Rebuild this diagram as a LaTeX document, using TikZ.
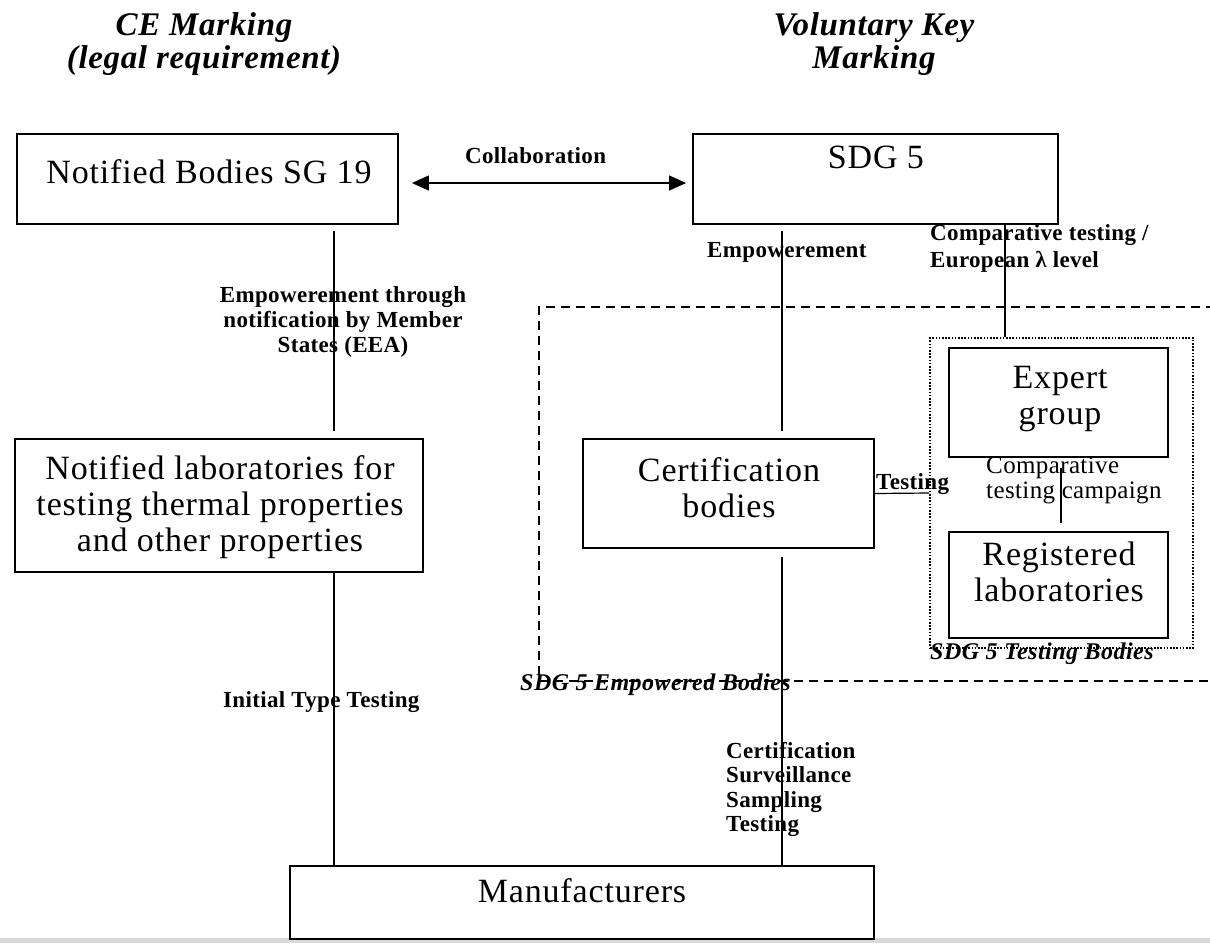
\documentclass[tikz,border=0pt]{standalone}
\usepackage{fontspec}
\setmainfont{Liberation Serif}
\newfontfamily\boxfam[LetterSpace=2.5]{Liberation Serif}
\newfontfamily\labfam[LetterSpace=1.5]{Liberation Serif}
\newfontfamily\titfam[LetterSpace=2]{Liberation Serif}
\usetikzlibrary{arrows.meta,calc}
\newcommand{\mytab}[2]{\begin{tabular}[t]{@{}#1@{}}#2\end{tabular}}
\definecolor{stripgray}{RGB}{217,217,217}
\tikzset{
  boxnode/.style={draw, line width=1.8pt, inner sep=0pt},
  boxtext/.style={inner sep=0pt, anchor=base, font=\boxfam\fontsize{34}{36}\selectfont},
  lab/.style={inner sep=0pt, font=\labfam\bfseries\fontsize{23}{25}\selectfont},
  reglab/.style={inner sep=0pt, font=\labfam\fontsize{25}{25}\selectfont},
  itlab/.style={inner sep=0pt, font=\titfam\bfseries\itshape\fontsize{24}{25}\selectfont},
  titletext/.style={inner sep=0pt, anchor=base, font=\titfam\bfseries\itshape\fontsize{33}{33}\selectfont},
  conn/.style={line width=1.2pt},
  arrowc/.style={line width=1.3pt, {Triangle[length=17pt,width=15pt]}-{Triangle[length=17pt,width=15pt]}},
  dashline/.style={line width=1.3pt, dash pattern=on 9pt off 6pt},
  dotbox/.style={draw, line width=1.6pt, dash pattern=on 1.6pt off 1.6pt, inner sep=0pt}
}
\begin{document}
\begin{tikzpicture}[x=1pt,y=-1pt]
\useasboundingbox (0,0) rectangle (1210,943);
\fill[white] (0,0) rectangle (1210,943);
\fill[stripgray] (0,938) rectangle (1210,943);

% titles
\node[titletext] (tce) at (204,35) {\mytab{c}{CE Marking\\(legal requirement)}};
\node[titletext] (tvk) at (874,35) {\mytab{c}{Voluntary Key\\Marking}};

% dashed region of empowered bodies
\draw[dashline] (1215,307) -- (539,307) -- (539,681) -- (1215,681);

% boxes
\node[boxnode, minimum width=381pt, minimum height=90pt] (nb) at (207.5,179) {};
\node[boxtext] (nbt) at (209,183) {Notified Bodies SG 19};
\node[boxnode, minimum width=365pt, minimum height=90pt] (sdg) at (875.5,179) {};
\node[boxtext] (sdgt) at (876,168) {SDG 5};
\node[boxnode, minimum width=408pt, minimum height=133pt] (lab) at (219,505.5) {};
\node[boxtext] (labt) at (220,479) {\mytab{c}{Notified laboratories for\\testing thermal properties\\and other properties}};
\node[boxnode, minimum width=291pt, minimum height=109pt] (cert) at (728.5,493.5) {};
\node[boxtext] (certt) at (729,481) {\mytab{c}{Certification\\bodies}};
\node[dotbox, minimum width=263pt, minimum height=310pt] (tb) at (1061.5,493) {};
\node[boxnode, minimum width=219pt, minimum height=109pt] (exp) at (1058.5,402.5) {};
\node[boxtext] (expt) at (1060,388) {\mytab{c}{Expert\\group}};
\node[boxnode, minimum width=219pt, minimum height=106pt] (reg) at (1058.5,585) {};
\node[boxtext] (regt) at (1059,565) {\mytab{c}{Registered\\laboratories}};
\node[boxnode, minimum width=584pt, minimum height=73pt] (man) at (582,902.5) {};
\node[boxtext] (mant) at (582,902) {Manufacturers};

% connector x positions
\coordinate (xL) at (334,0);
\coordinate (xC) at (782,0);
\coordinate (xK) at (1005,0);
\coordinate (xE) at (1061,0);

% connectors
\draw[arrowc] ([shift={(13pt,-4pt)}]nb.east) -- ([shift={(-6pt,-4pt)}]sdg.west);
\draw[conn] ([yshift=-6pt]nb.south -| xL) -- ([yshift=7pt]lab.north -| xL);
\draw[conn] (lab.south -| xL) -- (man.north -| xL);
\draw[conn] ([yshift=-6pt]sdg.south -| xC) -- ([yshift=7pt]cert.north -| xC);
\draw[conn] ([yshift=-8pt]cert.south -| xC) -- (man.north -| xC);
\draw[conn] (sdg.south -| xK) -- (tb.north -| xK);
\draw[conn] (cert.east) -- (tb.west);
\draw[conn] ([yshift=-10pt]exp.south -| xE) -- ([yshift=8pt]reg.north -| xE);

% labels
\node[lab, anchor=base west] (collab) at (465,163) {Collaboration};
\node[lab, anchor=base] (emp1) at (343,302) {\mytab{c}{Empowerement through\\notification by Member\\States (EEA)}};
\node[lab, anchor=base west] (itt) at (223,707) {Initial Type Testing};
\node[lab, anchor=base west] (emp2) at (707,257) {Empowerement};
\node[lab, anchor=base west, font=\labfam\bfseries\fontsize{23}{27}\selectfont] (ctel) at (930,240) {\mytab{l}{Comparative testing /\\European λ level}};
\node[lab, anchor=base west] (testl) at (876,489) {Testing};
\node[lab, anchor=base west, font=\labfam\bfseries\fontsize{23}{24.5}\selectfont] (csst) at (726,758) {\mytab{l}{Certification\\Surveillance\\Sampling\\Testing}};
\node[reglab, anchor=base west] (ctc) at (986,473) {\mytab{l}{Comparative\\testing campaign}};
\node[itlab, anchor=base west] (emb) at (520,690) {SDG 5 Empowered Bodies};
\node[itlab, anchor=base west] (tbl) at (930,659) {SDG 5 Testing Bodies};
\end{tikzpicture}
\end{document}
